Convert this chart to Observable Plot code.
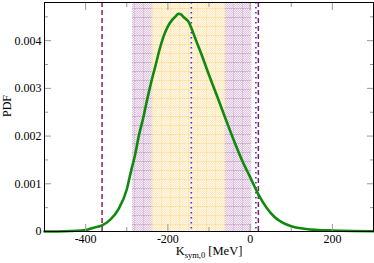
<!DOCTYPE html>
<html><head><meta charset="utf-8">
<script src="https://cdn.jsdelivr.net/npm/d3@7"></script>
<script src="https://cdn.jsdelivr.net/npm/@observablehq/plot@0.6"></script>
<style>body{margin:0;background:#fff;} svg{display:block;} svg text{font-family:"Liberation Serif","Times New Roman",serif !important;}</style>
</head><body><div id="chart"></div>
<script>
// Curve: PDF of K_sym,0
const kValues   = [-500,-450,-400,-380,-360,-340,-320,-300,-290,-280,-270,-260,-250,-240,-230,-220,-210,-200,-190,-180,-175,-170,-160,-150,-140,-130,-120,-100,-80,-60,-40,-20,0,20,40,60,80,100,150,200,250,300];
const pdfValues = [0,0.000005,0.00003,0.00008,0.00013,0.00025,0.00047,0.00088,0.00125,0.0016,0.00203,0.00238,0.00278,0.00315,0.00348,0.00382,0.0041,0.0043,0.00443,0.00452,0.004565,0.00456,0.00448,0.0044,0.0042,0.00397,0.00375,0.00328,0.00283,0.00237,0.00192,0.0015,0.00114,0.00078,0.0005,0.0003,0.00018,0.00011,0.00004,0.00002,0.00001,0.000005];
// shaded bands
const purpleBand = [-286, 4];
const yellowBand = [-238, -60];
// vertical reference lines
const dashedLines = [-360, 20];
const dottedLines = [-143, 14];
// ticks
const xMajor = [-400, -200, 0, 200];
const xMinor = [-300, -100, 100];
const yMajor = [0, 0.001, 0.002, 0.003, 0.004];
const yMinor = [0.0005, 0.0015, 0.0025, 0.0035, 0.0045];

const curve = kValues.map((k, i) => ({k, p: pdfValues[i]}));
const font = "'Liberation Serif', 'Times New Roman', serif";
const tickGray = "#999";

const svg = Plot.plot({
  width: 374, height: 263,
  marginLeft: 44, marginRight: 1, marginTop: 2, marginBottom: 32,
  style: {fontFamily: font, fontSize: "12px", background: "#fff"},
  x: {domain: [-500, 300]},
  y: {domain: [0, 0.0048]},
  marks: [
    Plot.rectX([purpleBand], {x1: d => d[0], x2: d => d[1], fill: "url(#purplePat)"}),
    Plot.rectX([yellowBand], {x1: d => d[0], x2: d => d[1], fill: "url(#yellowPat)"}),
    Plot.ruleX(dashedLines, {stroke: "#8c1c5c", strokeWidth: 1.5, strokeDasharray: "5,3"}),
    Plot.ruleX(dottedLines, {stroke: "#3333ff", strokeWidth: 1.6, strokeDasharray: "1.6,3.4"}),
    Plot.line(curve, {x: "k", y: "p", stroke: "#0e8a0e", strokeWidth: 2.6, curve: "monotone-x"}),
    // inward ticks on all four sides
    Plot.axisX(xMajor, {anchor: "bottom", tickSize: -7, stroke: tickGray, text: null, label: null}),
    Plot.axisX(xMinor, {anchor: "bottom", tickSize: -4, stroke: tickGray, text: null, label: null}),
    Plot.axisX(xMajor, {anchor: "top", tickSize: -7, stroke: tickGray, text: null, label: null}),
    Plot.axisX(xMinor, {anchor: "top", tickSize: -4, stroke: tickGray, text: null, label: null}),
    Plot.axisY(yMajor, {anchor: "left", tickSize: -7, stroke: tickGray, text: null, label: null}),
    Plot.axisY(yMinor, {anchor: "left", tickSize: -4, stroke: tickGray, text: null, label: null}),
    Plot.axisY(yMajor, {anchor: "right", tickSize: -7, stroke: tickGray, text: null, label: null}),
    Plot.axisY(yMinor, {anchor: "right", tickSize: -4, stroke: tickGray, text: null, label: null}),
    // tick labels
    Plot.axisX(xMajor, {anchor: "bottom", tickSize: 0, tickPadding: 3, fill: "#000", fontSize: 12, fontFamily: font, label: null, tickFormat: d => String(d).replace("−", "-")}),
    Plot.axisY(yMajor, {anchor: "left", tickSize: 0, tickPadding: 3, fill: "#000", fontSize: 12, fontFamily: font, label: null, tickFormat: d => d === 0 ? "0" : d3.format(".3f")(d)}),
    Plot.text(["PDF"], {frameAnchor: "left", dx: -37, rotate: -90, fontSize: 12, fontFamily: font, fill: "#000"}),
    Plot.frame({stroke: "#000", strokeWidth: 1})
  ]
});

const s = d3.select(svg);
s.attr("font-family", font);
const defs = s.insert("defs", ":first-child");
function makePat(id, base, dot, line) {
  const ck = defs.append("pattern").attr("id", id + "Ck").attr("patternUnits", "userSpaceOnUse")
    .attr("width", 2).attr("height", 2);
  ck.append("rect").attr("width", 2).attr("height", 2).attr("fill", base);
  ck.append("rect").attr("width", 1).attr("height", 1).attr("fill", dot);
  ck.append("rect").attr("x", 1).attr("y", 1).attr("width", 1).attr("height", 1).attr("fill", dot);
  const p = defs.append("pattern").attr("id", id).attr("patternUnits", "userSpaceOnUse")
    .attr("width", 9).attr("height", 9);
  p.append("rect").attr("width", 9).attr("height", 9).attr("fill", `url(#${id}Ck)`);
  p.append("rect").attr("y", 8).attr("width", 9).attr("height", 1).attr("fill", line).attr("opacity", 0.45);
  p.append("rect").attr("x", 8).attr("width", 1).attr("height", 9).attr("fill", line).attr("opacity", 0.3);
}
makePat("purplePat", "#f5ecf5", "#dfc6df", "#b98ab9");
makePat("yellowPat", "#fff7e8", "#ffe9bf", "#ffd27a");

// x-axis label with subscript
const t = s.append("text").attr("x", 209).attr("y", 255).attr("text-anchor", "middle")
  .attr("font-family", font).attr("font-size", 12.5).attr("fill", "#000");
t.append("tspan").text("K");
t.append("tspan").attr("font-size", 8.5).attr("dy", 3).text("sym,0");
t.append("tspan").attr("dy", -3).text(" [MeV]");

document.getElementById("chart").appendChild(svg);
</script>
</body></html>
